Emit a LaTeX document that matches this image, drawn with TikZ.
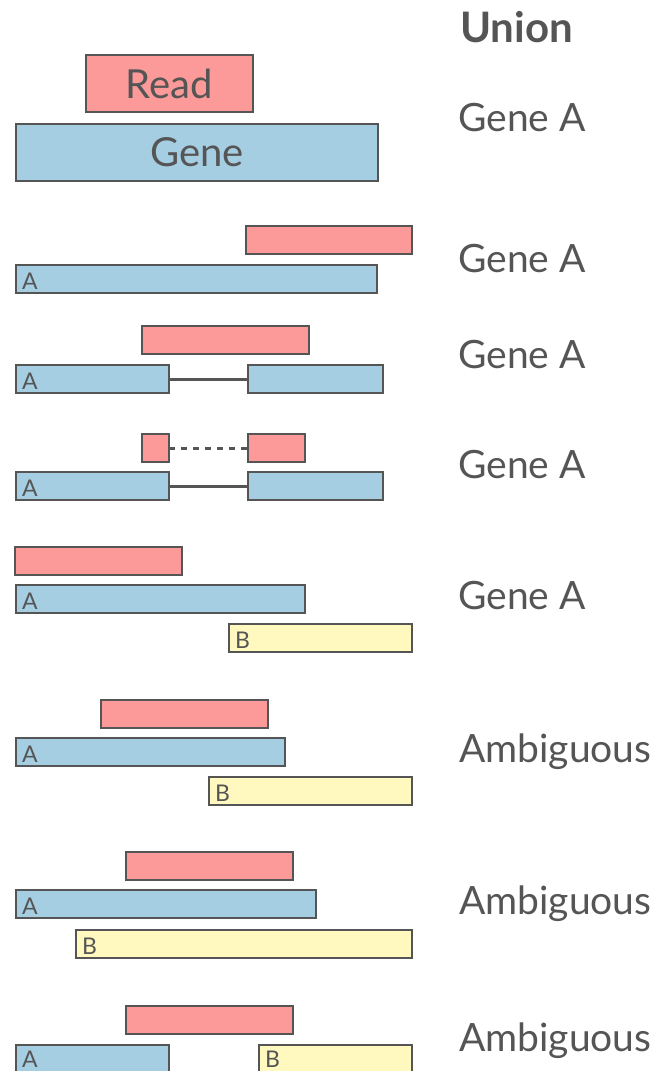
\documentclass[tikz,border=0pt]{standalone}
\usepackage{fontspec}
\setmainfont{Lato}
\definecolor{rdfill}{HTML}{FB9A99}
\definecolor{gnfill}{HTML}{A6CEE3}
\definecolor{ylfill}{HTML}{FFF9C0}
\definecolor{ink}{HTML}{555555}
\tikzset{
  bar/.style={draw=ink, line width=1.5pt, rectangle, inner sep=0pt, outer sep=0pt, anchor=north west, minimum height=28pt},
  rd/.style={bar, fill=rdfill},
  gn/.style={bar, fill=gnfill},
  yl/.style={bar, fill=ylfill},
  tag/.style={text=ink, font=\fontsize{23}{24}\selectfont, anchor=base west, inner sep=0pt},
  res/.style={text=ink, font=\fontsize{39}{44}\selectfont, anchor=base west, inner sep=0pt},
  intron/.style={draw=ink, line width=3pt},
  gapline/.style={draw=ink, line width=3pt, dash pattern=on 6pt off 6pt},
}
\begin{document}
\begin{tikzpicture}[x=1pt,y=-1pt]
\clip (0,0) rectangle (666,1071);
\fill[white] (0,0) rectangle (666,1071);
% header
\node[res, font=\fontsize{42}{46}\selectfont\bfseries] (hdr) at (460,42) {Union};
% row 0
\node[rd, minimum width=167pt, minimum height=57pt] (r0) at (86,55) {};
\node[text=ink, font=\fontsize{40}{44}\selectfont] (r0t) at (r0.center) {Read};
\node[gn, minimum width=362pt, minimum height=57pt] (g0) at (16,124) {};
\node[text=ink, font=\fontsize{40}{44}\selectfont] (g0t) at (g0.center) {Gene};
\node[res] (l0) at (458,131) {Gene A};
% row 1
\node[rd, minimum width=166pt] (r1) at (246,226) {};
\node[gn, minimum width=361pt] (g1) at (16,265) {};
\node[tag] (g1a) at ([xshift=6pt,yshift=4pt]g1.south west) {A};
\node[res] (l1) at (458,272) {Gene A};
% row 2
\node[rd, minimum width=167pt] (r2) at (142,326) {};
\node[gn, minimum width=153pt] (g2a) at (16,365) {};
\node[gn, minimum width=135pt] (g2b) at (248,365) {};
\draw[intron] (g2a.east) -- (g2b.west);
\node[tag] (g2t) at ([xshift=6pt,yshift=4pt]g2a.south west) {A};
\node[res] (l2) at (458,368) {Gene A};
% row 3
\node[rd, minimum width=27pt] (r3a) at (142,434) {};
\node[rd, minimum width=57pt] (r3b) at (248,434) {};
\draw[gapline] (r3a.east) -- (r3b.west);
\node[gn, minimum width=153pt] (g3a) at (16,472) {};
\node[gn, minimum width=135pt] (g3b) at (248,472) {};
\draw[intron] (g3a.east) -- (g3b.west);
\node[tag] (g3t) at ([xshift=6pt,yshift=4pt]g3a.south west) {A};
\node[res] (l3) at (458,478) {Gene A};
% row 4
\node[rd, minimum width=167pt] (r4) at (15,547) {};
\node[gn, minimum width=289pt] (g4) at (16,585) {};
\node[tag] (g4t) at ([xshift=6pt,yshift=4pt]g4.south west) {A};
\node[yl, minimum width=183pt] (y4) at (229,624) {};
\node[tag] (y4t) at ([xshift=6pt,yshift=4pt]y4.south west) {B};
\node[res] (l4) at (458,609) {Gene A};
% row 5
\node[rd, minimum width=167pt] (r5) at (101,700) {};
\node[gn, minimum width=269pt] (g5) at (16,738) {};
\node[tag] (g5t) at ([xshift=6pt,yshift=4pt]g5.south west) {A};
\node[yl, minimum width=203pt] (y5) at (209,777) {};
\node[tag] (y5t) at ([xshift=6pt,yshift=4pt]y5.south west) {B};
\node[res] (l5) at (459,762) {Ambiguous};
% row 6
\node[rd, minimum width=167pt] (r6) at (126,852) {};
\node[gn, minimum width=300pt] (g6) at (16,890) {};
\node[tag] (g6t) at ([xshift=6pt,yshift=4pt]g6.south west) {A};
\node[yl, minimum width=336pt] (y6) at (76,930) {};
\node[tag] (y6t) at ([xshift=6pt,yshift=4pt]y6.south west) {B};
\node[res] (l6) at (459,914) {Ambiguous};
% row 7
\node[rd, minimum width=167pt] (r7) at (126,1006) {};
\node[gn, minimum width=153pt] (g7) at (16,1045) {};
\node[tag] (g7t) at ([xshift=6pt,yshift=6pt]g7.south west) {A};
\node[yl, minimum width=153pt] (y7) at (259,1045) {};
\node[tag] (y7t) at ([xshift=6pt,yshift=6pt]y7.south west) {B};
\node[res] (l7) at (459,1051) {Ambiguous};
\end{tikzpicture}
\end{document}
